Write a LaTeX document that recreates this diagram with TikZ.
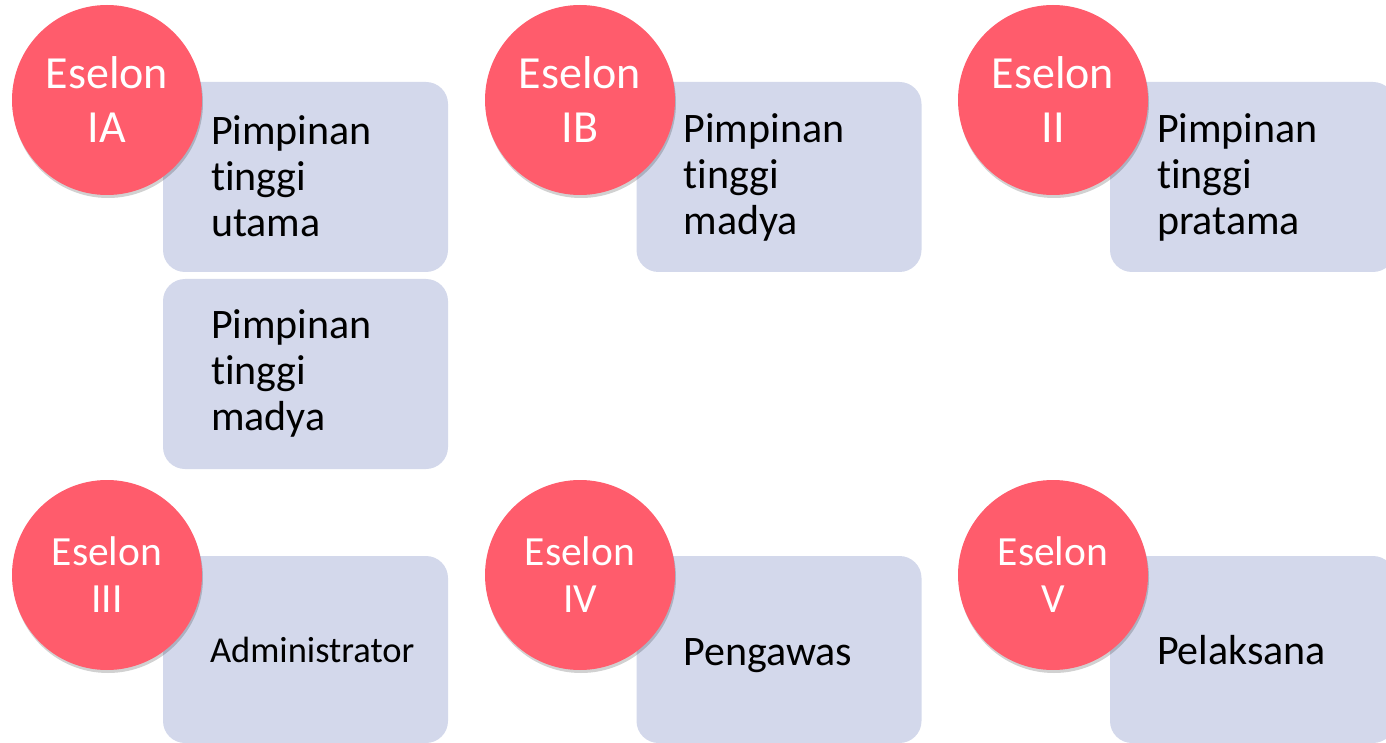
\documentclass[tikz,border=0pt]{standalone}
\usepackage{fontspec}
\setmainfont[Ligatures={NoCommon}]{Carlito}
\usetikzlibrary{shadows}
\definecolor{circred}{RGB}{255,92,108}
\definecolor{boxfill}{RGB}{211,216,235}
\tikzset{
  x=1pt, y=-1pt,
  box/.style={draw=none, fill=boxfill, rounded corners=22pt, minimum width=285pt, minimum height=190pt, inner sep=0pt},
  boxlow/.style={box, minimum height=187pt},
  lbl/.style={anchor=west, align=left, inner sep=0pt, text=black, font=\fontsize{42}{46}\selectfont},
  lblone/.style={lbl, anchor=base west},
  lblsmall/.style={lblone, font=\fontsize{36.5}{42}\selectfont},
  badge/.style={circle, fill=circred, minimum size=190pt, inner sep=0pt, text=white, align=center,
    drop shadow={shadow xshift=1pt, shadow yshift=-3pt, opacity=0.18, fill=black}},
  badgebig/.style={badge, font=\fontsize{46}{54}\selectfont},
  badgesmall/.style={badge, font=\fontsize{41.5}{47}\selectfont},
}
\begin{document}
\begin{tikzpicture}
\useasboundingbox (0,0) rectangle (1386,743);
\clip (0,0) rectangle (1386,743);
% boxes
\node[box] (b1) at (305.5,177) {};
\node[box] (b2) at (305.5,374) {};
\node[box] (b3) at (779,177) {};
\node[box] (b4) at (1252.5,177) {};
\node[boxlow] (b5) at (305.5,649.5) {};
\node[boxlow] (b6) at (779,649.5) {};
\node[boxlow] (b7) at (1252.5,649.5) {};
% box texts
\node[lbl] (t1) at ([xshift=48pt,yshift=1pt]b1.west) {Pimpinan\\tinggi\\utama};
\node[lbl] (t2) at ([xshift=48pt,yshift=1pt]b2.west) {Pimpinan\\tinggi\\madya};
\node[lbl] (t3) at ([xshift=47pt]b3.west) {Pimpinan\\tinggi\\madya};
\node[lbl] (t4) at ([xshift=47pt]b4.west) {Pimpinan\\tinggi\\pratama};
\node[lblsmall] (t5) at ([xshift=47pt,yshift=-13pt]b5.west) {Administrator};
\node[lblone] (t6) at ([xshift=47pt,yshift=-16pt]b6.west) {Pengawas};
\node[lblone] (t7) at ([xshift=47pt,yshift=-15pt]b7.west) {Pelaksana};
% badges
\node[badgebig] (c1) at (107,100) {Eselon\\IA};
\node[badgebig] (c2) at (580,100) {Eselon\\IB};
\node[badgebig] (c3) at (1053,100) {Eselon\\II};
\node[badgesmall] (c4) at (107,575) {Eselon\\III};
\node[badgesmall] (c5) at (580,575) {Eselon\\IV};
\node[badgesmall] (c6) at (1053,575) {Eselon\\V};
\end{tikzpicture}
\end{document}
